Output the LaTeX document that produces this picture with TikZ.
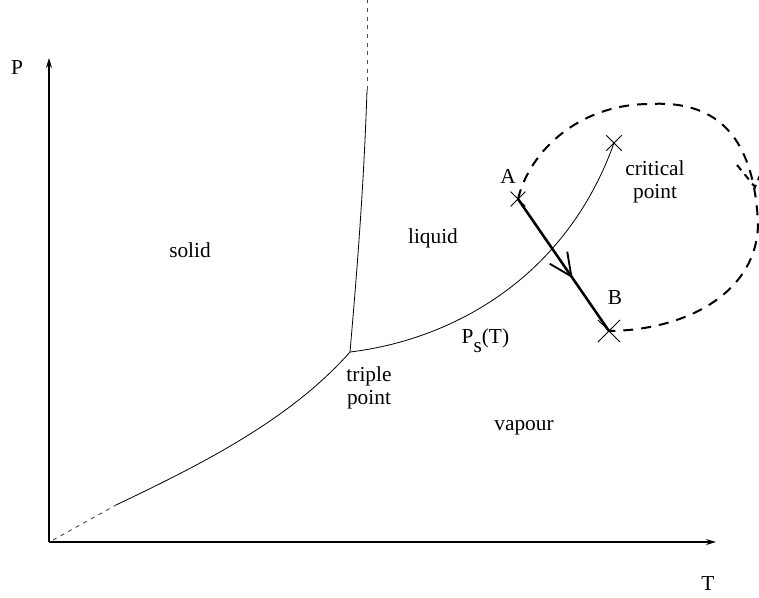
\documentclass[tikz,border=0pt]{standalone}
\usepackage{fontspec}
\setmainfont{Liberation Serif}
\usetikzlibrary{arrows.meta,calc,shapes.misc,decorations.markings}

\begin{document}
\begin{tikzpicture}[x=0.75pt,y=-0.75pt, every node/.style={font=\fontsize{16}{17}\selectfont,align=center},
  curve/.style={line width=0.6pt},
  ext/.style={line width=0.7pt,black!70,dash pattern=on 3pt off 3.5pt},
  ax/.style={line width=0.8pt,-{Stealth[length=7.5pt,width=4.5pt]}},
  jump/.style={line width=1.9pt,postaction={decorate},decoration={markings,
    mark=at position 0.6 with {\arrow{Straight Barb[length=17pt,width=16pt,line width=1.4pt]}}}},
  loopline/.style={line width=1.5pt,dash pattern=on 7.5pt off 6pt},
  crossm/.style={draw,cross out,inner sep=0pt,line width=0.6pt}]
  \useasboundingbox (0,0) rectangle (759,597);
  % axes
  \coordinate (O) at (49,542);
  \coordinate (ptop) at (49,58);
  \coordinate (tend) at (716,542);
  \draw[ax] (O) -- (ptop);
  \draw[ax] (O) -- (tend);
  \node (P) at (17,68) {P};
  \node (T) at (708,584) {T};
  % phase boundaries
  \coordinate (tp) at (350,352);
  \coordinate (sub) at (116,505);
  \coordinate (melt) at (367,90);
  \coordinate (mtop) at (367,0);
  \node[crossm,minimum size=11pt] (cp) at (614,143) {};
  \draw[ext] ($(O)+(4,-2)$) -- (sub);
  \draw[curve] (sub) .. controls (200,465) and (290,420) .. (tp);
  \draw[curve] (tp) .. controls (358,260) and (364,180) .. (melt);
  \draw[ext] (melt) -- (mtop);
  \draw[curve] (tp) .. controls (450,340) and (565,280) .. (cp.center);
  % labels
  \node (solid) at (190,250) {solid};
  \node (liquid) at (433,238) {liquid};
  \node (vap) at (524,428) {vapour};
  \node (tpl) at (369,388) {triple\\point};
  \node (cpl) at (655,182) {critical\\point};
  \node[anchor=base west] (ps) at (457,343) {P\raisebox{-7pt}{s}(T)};
  % path A -> B
  \node[crossm,minimum size=10.5pt] (A) at (518,199) {};
  \node[crossm,minimum size=16pt] (B) at (609,331) {};
  \node (Al) at (508,176) {A};
  \node (Bl) at (615,298) {B};
  \draw[jump] (A.center) -- (B.center);
  % way round the critical point
  \coordinate (ltop) at (650,104);
  \coordinate (lright) at (758,223);
  \draw[loopline] (A.center) .. controls (530,150) and (580,104) .. (ltop)
    .. controls (720,100) and (754,140) .. (lright)
    .. controls (758,290) and (690,330) .. (B.center);
  \coordinate (tip) at (755,187);
  \coordinate (barbl) at (737,165);
  \coordinate (barbr) at (764,166);
  \draw[line width=1.5pt,dash pattern=on 5pt off 4pt] (barbl) -- (tip) -- (barbr);
\end{tikzpicture}
\end{document}
